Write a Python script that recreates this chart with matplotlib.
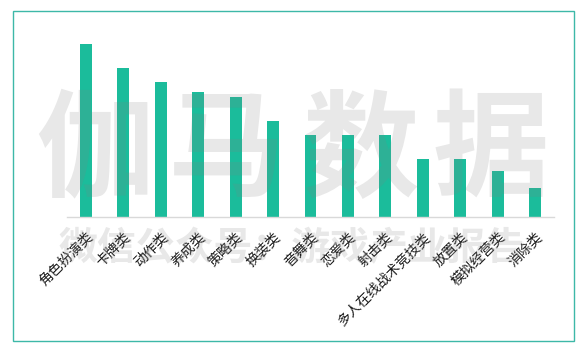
import matplotlib
matplotlib.use("Agg")
import matplotlib.pyplot as plt
from matplotlib.patches import Rectangle

plt.rcParams['font.family'] = ['Noto Sans CJK SC', 'DejaVu Sans']

categories = ["角色扮演类", "卡牌类", "动作类", "养成类", "策略类", "换装类", "音舞类",
              "恋爱类", "射击类", "多人在线战术竞技类", "放置类", "模拟经营类", "消除类"]
values = [36, 31, 28, 26, 25, 20, 17, 17, 17, 12, 12, 9.5, 6]

W, H = 585, 354
fig = plt.figure(figsize=(W / 100, H / 100), dpi=100)
fig.patch.set_facecolor('white')

# axes placement in pixels
left, right, base, top = 67, 554, 217, 44
ax = fig.add_axes([left / W, 1 - base / H, (right - left) / W, (base - top) / H])
x = list(range(len(categories)))
ax.bar(x, values, width=0.32, color='#1bbc9b', zorder=2)
ax.set_xlim(-0.5, len(categories) - 0.5)
ax.set_ylim(0, max(values))
ax.set_yticks([])
for s in ['top', 'right', 'left']:
    ax.spines[s].set_visible(False)
ax.spines['bottom'].set_color('#d9d9d9')
ax.spines['bottom'].set_linewidth(1.0)
ax.set_xticks(x)
ax.set_xticklabels(categories, rotation=45, ha='right', rotation_mode='anchor',
                   fontsize=10, color='#1a1a1a')
ax.tick_params(axis='x', length=0, pad=9)
ax.patch.set_alpha(0)

# border
fig.patches.append(Rectangle((13 / W, 1 - 341 / H), (574 - 13) / W, (341 - 11) / H,
                             transform=fig.transFigure, fill=False,
                             edgecolor='#3db8a8', linewidth=1.0))

# watermarks
wm_chars = "伽马数据"
wm_x = [94, 226, 361, 491]
for ch, cx in zip(wm_chars, wm_x):
    fig.text(cx / W, 1 - 153 / H, ch, fontsize=84, fontweight='bold',
             color='#808080', alpha=0.18, ha='center', va='center', zorder=10)
fig.text(292 / W, 1 - 249 / H, "微信公众号：游戏产业报告", fontsize=28, fontweight='bold',
         color='#808080', alpha=0.18, ha='center', va='center', zorder=0)

fig.savefig("out.png", dpi=100)
